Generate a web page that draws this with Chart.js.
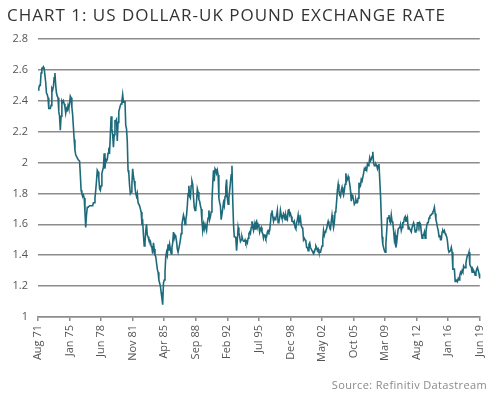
<!DOCTYPE html>
<html>
<head>
<meta charset="utf-8">
<script src="https://cdn.jsdelivr.net/npm/chart.js@4/dist/chart.umd.min.js"></script>
<style>
  html, body { margin: 0; padding: 0; background: #fff; }
  #wrap { position: relative; width: 497px; height: 398px; overflow: hidden; }
  #title { position: absolute; left: 7px; top: 3px; font: 400 17px "Open Sans", sans-serif; color: #333; letter-spacing: 1.0px; white-space: nowrap; }
  #source { position: absolute; right: 10px; top: 377px; font: 400 11px "Open Sans", sans-serif; color: #8a8a8a; letter-spacing: 0.35px; white-space: nowrap; }
  canvas { position: absolute; left: 0; top: 0; }
</style>
</head>
<body>
<div id="wrap">
  <canvas id="chart" width="497" height="398"></canvas>
  <div id="title">CHART 1: US DOLLAR-UK POUND EXCHANGE RATE</div>
  <div id="source">Source: Refinitiv Datastream</div>
</div>
<script>
// US$ per GBP, monthly, Aug 1971 - Jun 2019
const RATE_1970S = [
  2.47, 2.48, 2.50, 2.50, 2.58,
  2.61, 2.61, 2.62, 2.61, 2.61, 2.52, 2.45, 2.44, 2.42, 2.35, 2.35, 2.35,
  2.37, 2.48, 2.47, 2.49, 2.55, 2.58, 2.50, 2.45, 2.43, 2.42, 2.33, 2.30,
  2.21, 2.30, 2.40, 2.39, 2.40, 2.38, 2.36, 2.32, 2.35, 2.34, 2.37, 2.35,
  2.38, 2.43, 2.42, 2.36, 2.31, 2.23, 2.15, 2.08, 2.05, 2.04, 2.03, 2.02,
  2.02, 2.01, 1.92, 1.82, 1.80, 1.78, 1.79, 1.77, 1.68, 1.58, 1.66, 1.71,
  1.71, 1.71, 1.72, 1.72, 1.72, 1.72, 1.72, 1.74, 1.74, 1.77, 1.82, 1.88,
  1.95, 1.94, 1.90, 1.83, 1.82, 1.85, 1.93, 1.95, 1.97, 2.06, 1.96, 2.02,
  2.01, 2.02, 2.06, 2.08, 2.07, 2.18, 2.30, 2.22, 2.18, 2.10, 2.18, 2.27
];
const RATE_1980S = [
  2.27, 2.28, 2.14, 2.26, 2.33, 2.35, 2.37, 2.38, 2.40, 2.44, 2.39, 2.39,
  2.40, 2.24, 2.22, 2.14, 1.95, 1.93, 1.85, 1.80, 1.81, 1.86, 1.96, 1.91,
  1.88, 1.84, 1.80, 1.78, 1.80, 1.74, 1.74, 1.72, 1.70, 1.68, 1.61, 1.62,
  1.53, 1.46, 1.48, 1.56, 1.60, 1.53, 1.52, 1.50, 1.50, 1.49, 1.46, 1.45,
  1.41, 1.48, 1.44, 1.40, 1.39, 1.35, 1.31, 1.29, 1.24, 1.22, 1.20, 1.16,
  1.12, 1.08, 1.22, 1.24, 1.29, 1.39, 1.42, 1.40, 1.47, 1.43, 1.47, 1.44,
  1.41, 1.45, 1.48, 1.55, 1.51, 1.53, 1.52, 1.49, 1.44, 1.42, 1.42, 1.47,
  1.50, 1.54, 1.60, 1.63, 1.66, 1.64, 1.60, 1.63, 1.66, 1.72, 1.80, 1.85,
  1.78, 1.77, 1.85, 1.88, 1.86, 1.78, 1.71, 1.69, 1.70, 1.75, 1.83, 1.81,
  1.76, 1.75, 1.72, 1.70, 1.62, 1.56, 1.60, 1.57, 1.60, 1.58, 1.56, 1.61
];
const RATE_1990S = [
  1.64, 1.69, 1.63, 1.65, 1.68, 1.75, 1.86, 1.95, 1.88, 1.96, 1.95, 1.93,
  1.95, 1.92, 1.77, 1.74, 1.72, 1.63, 1.63, 1.70, 1.74, 1.72, 1.78, 1.84,
  1.89, 1.77, 1.73, 1.77, 1.82, 1.87, 1.92, 1.98, 1.76, 1.60, 1.52, 1.52,
  1.51, 1.43, 1.50, 1.58, 1.55, 1.52, 1.49, 1.50, 1.52, 1.50, 1.49, 1.49,
  1.50, 1.48, 1.49, 1.48, 1.51, 1.54, 1.55, 1.54, 1.58, 1.62, 1.58, 1.56,
  1.60, 1.57, 1.61, 1.62, 1.58, 1.60, 1.59, 1.55, 1.57, 1.58, 1.55, 1.54,
  1.51, 1.53, 1.53, 1.51, 1.52, 1.55, 1.56, 1.55, 1.56, 1.61, 1.67, 1.69,
  1.65, 1.62, 1.64, 1.63, 1.64, 1.66, 1.69, 1.61, 1.62, 1.64, 1.69, 1.66,
  1.64, 1.64, 1.67, 1.66, 1.63, 1.66, 1.64, 1.63, 1.69, 1.70, 1.66, 1.67,
  1.65, 1.62, 1.62, 1.61, 1.62, 1.58, 1.57, 1.61, 1.63, 1.66, 1.61, 1.62
];
const RATE_2000S = [
  1.64, 1.59, 1.58, 1.57, 1.50, 1.51, 1.50, 1.49, 1.45, 1.45, 1.43, 1.47,
  1.48, 1.45, 1.44, 1.43, 1.42, 1.41, 1.42, 1.44, 1.46, 1.45, 1.43, 1.44,
  1.42, 1.42, 1.42, 1.44, 1.46, 1.50, 1.56, 1.53, 1.55, 1.56, 1.57, 1.60,
  1.62, 1.60, 1.58, 1.57, 1.62, 1.66, 1.62, 1.58, 1.61, 1.68, 1.69, 1.75,
  1.82, 1.86, 1.82, 1.79, 1.78, 1.82, 1.84, 1.81, 1.79, 1.82, 1.86, 1.93,
  1.88, 1.89, 1.91, 1.89, 1.86, 1.82, 1.75, 1.79, 1.78, 1.76, 1.73, 1.74,
  1.76, 1.74, 1.74, 1.77, 1.87, 1.84, 1.85, 1.89, 1.88, 1.88, 1.93, 1.96,
  1.95, 1.96, 1.95, 1.99, 1.98, 1.99, 2.03, 2.01, 2.02, 2.04, 2.07, 2.00,
  1.98, 1.98, 1.99, 1.98, 1.96, 1.98, 1.99, 1.89, 1.79, 1.65, 1.52, 1.47,
  1.45, 1.43, 1.42, 1.48, 1.55, 1.64, 1.64, 1.66, 1.62, 1.61, 1.66, 1.62
];
const RATE_2010S = [
  1.61, 1.56, 1.50, 1.53, 1.45, 1.48, 1.53, 1.57, 1.57, 1.58, 1.60, 1.56,
  1.58, 1.61, 1.61, 1.64, 1.65, 1.62, 1.62, 1.64, 1.57, 1.58, 1.57, 1.56,
  1.55, 1.58, 1.58, 1.61, 1.59, 1.55, 1.56, 1.56, 1.61, 1.61, 1.59, 1.61,
  1.60, 1.55, 1.51, 1.53, 1.53, 1.55, 1.51, 1.55, 1.59, 1.61, 1.61, 1.64,
  1.65, 1.66, 1.66, 1.67, 1.68, 1.69, 1.71, 1.67, 1.63, 1.61, 1.58, 1.56,
  1.52, 1.53, 1.50, 1.50, 1.55, 1.56, 1.55, 1.56, 1.54, 1.53, 1.52, 1.49,
  1.44, 1.42, 1.42, 1.43, 1.45, 1.42, 1.31, 1.31, 1.31, 1.23, 1.24, 1.24,
  1.23, 1.25, 1.24, 1.27, 1.29, 1.28, 1.30, 1.29, 1.33, 1.32, 1.32, 1.35,
  1.38, 1.40, 1.40, 1.42, 1.34, 1.33, 1.32, 1.29, 1.31, 1.30, 1.29, 1.27,
  1.29, 1.31, 1.32, 1.30, 1.28, 1.25
];
const RATES = [...RATE_1970S, ...RATE_1980S, ...RATE_1990S, ...RATE_2000S, ...RATE_2010S];

const MONTH_NAMES = ["Jan", "Feb", "Mar", "Apr", "May", "Jun", "Jul", "Aug", "Sep", "Oct", "Nov", "Dec"];
const TICK_LABELS = ["Aug 71", "Jan 75", "Jun 78", "Nov 81", "Apr 85", "Sep 88", "Feb 92", "Jul 95",
  "Dec 98", "May 02", "Oct 05", "Mar 09", "Aug 12", "Jan 16", "Jun 19"];

// one category per month, starting Aug 1971
const months = RATES.map((_, i) => {
  const m = (7 + i) % 12;
  const y = 1971 + Math.floor((7 + i) / 12);
  return MONTH_NAMES[m] + " " + String(y).slice(2);
});

const axisFont = { family: "'Open Sans', sans-serif", size: 11 };

new Chart(document.getElementById("chart"), {
  type: "line",
  data: {
    labels: months,
    datasets: [{
      data: RATES,
      borderColor: "#1d6a7b",
      borderWidth: 1.6,
      pointRadius: 0,
      tension: 0,
      fill: false,
    }],
  },
  options: {
    responsive: false,
    animation: false,
    layout: { padding: { left: 0, right: 16, top: 39, bottom: 0 } },
    plugins: { legend: { display: false }, tooltip: { enabled: false } },
    scales: {
      x: {
        offset: false,
        border: { display: true, color: "#8c8c8c", width: 1.5 },
        grid: { drawOnChartArea: false, drawTicks: true, tickLength: 4, color: "#8c8c8c", lineWidth: 1.5 },
        ticks: {
          autoSkip: false,
          minRotation: 90,
          maxRotation: 90,
          padding: 4,
          color: "#555",
          font: axisFont,
          callback: function (value) {
            const lab = this.getLabelForValue(value);
            return TICK_LABELS.includes(lab) ? lab : null;
          },
        },
        afterFit: (scale) => { scale.height = 81; },
      },
      y: {
        min: 1,
        max: 2.8,
        border: { display: false },
        grid: { color: "#8c8c8c", lineWidth: 1.5, drawTicks: false },
        ticks: { stepSize: 0.2, padding: 10, color: "#555", font: axisFont,
          callback: (v) => String(Math.round(v * 10) / 10) },
        afterFit: (scale) => { scale.width = 38; },
      },
    },
  },
});
</script>
</body>
</html>
